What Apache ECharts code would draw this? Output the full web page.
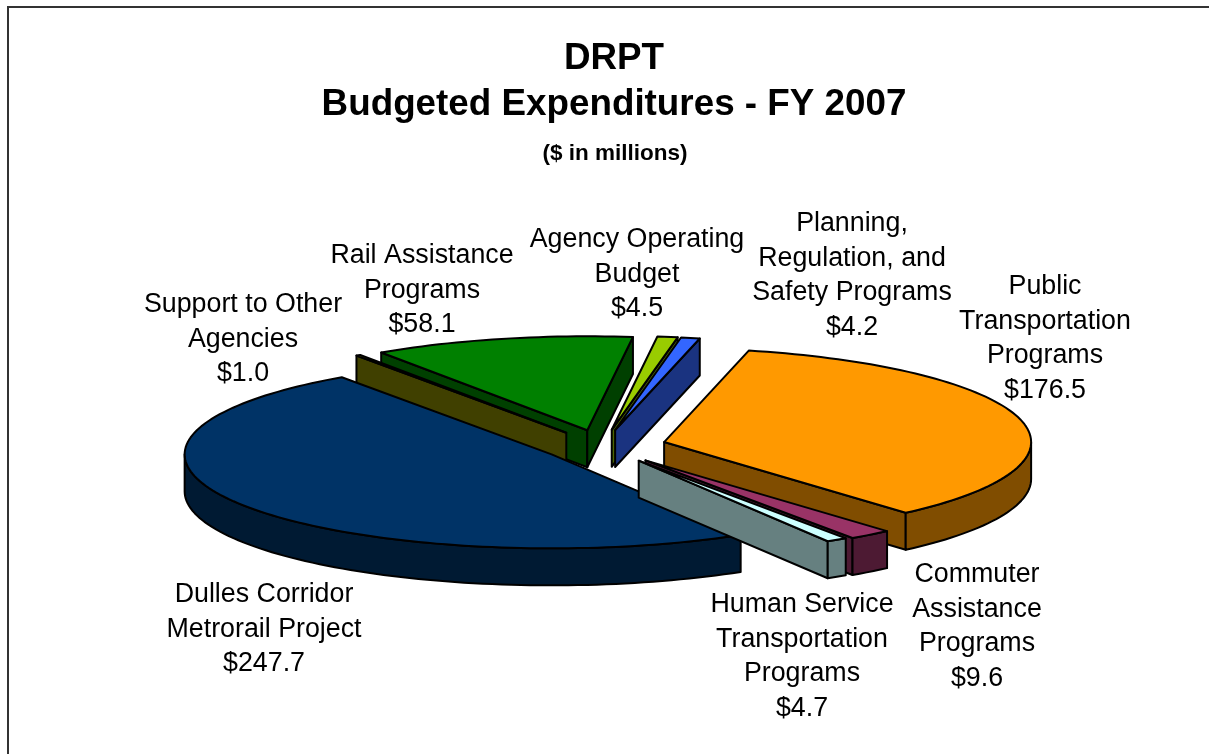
<!DOCTYPE html>
<html>
<head>
<meta charset="utf-8">
<title>DRPT Budgeted Expenditures - FY 2007</title>
<script src="https://cdn.jsdelivr.net/npm/echarts@6/dist/echarts.min.js"></script>
<style>
  html, body { margin: 0; padding: 0; background: #fff; }
  #chart { width: 1209px; height: 754px; }
</style>
</head>
<body>
<div id="chart"></div>
<script>
// Slices in clockwise order, starting from the lower edge of the Dulles slice
const CATEGORIES = [
  'Dulles Corridor\nMetrorail Project',
  'Support to Other\nAgencies',
  'Rail Assistance\nPrograms',
  'Agency Operating\nBudget',
  'Planning,\nRegulation, and\nSafety Programs',
  'Public\nTransportation\nPrograms',
  'Commuter\nAssistance\nPrograms',
  'Human Service\nTransportation\nPrograms'
];
const VALUES = [247.7, 1.0, 58.1, 4.5, 4.2, 176.5, 9.6, 4.7];
const TOP_COLORS = ['#003366', '#808000', '#008000', '#99cc00', '#3366ff', '#ff9900', '#993366', '#ccffff'];
const SIDE_COLORS = ['#001a33', '#404000', '#004000', '#4d6600', '#1a3380', '#804d00', '#4d1a33', '#668080'];

// Label anchors (center x, center y of the first line)
const LABEL_X = [264, 243, 422, 637, 852, 1045, 977, 802];
const LABEL_Y = [595, 305, 256, 240, 224, 287, 575, 605];

// How far each slice is pulled out of the pie, px along the long axis
const EXPLODE = [60, 63, 63, 64, 64, 64, 71, 68];

// 3D pie geometry
const CX = 602, CY = 446;
const RX = 367, RY = 94;
const DEPTH = 37;
const START_ANGLE = 149;
const LINE_HEIGHT = 34.5;

const total = VALUES.reduce((sum, v) => sum + v, 0);
const rad = deg => deg * Math.PI / 180;

// Angles are degrees clockwise from the top of the pie
let running = START_ANGLE;
const slices = VALUES.map((value, index) => {
  if (running >= 360) running -= 360;
  const start = running;
  const end = running + value / total * 360;
  running = end;
  const mid = rad((start + end) / 2);
  return {
    index, value, start, end,
    ax: CX + EXPLODE[index] * Math.sin(mid),
    ay: CY - EXPLODE[index] * RY / RX * Math.cos(mid)
  };
});

// Painter's order: the slices further back are drawn first
const drawOrder = [...slices].sort((a, b) => a.ay - b.ay);

const rimPoint = (s, deg, drop) => [
  s.ax + RX * Math.sin(rad(deg)),
  s.ay - RY * Math.cos(rad(deg)) + drop
];

const arcPoints = (s, from, to, drop) => {
  const steps = Math.max(2, Math.ceil((to - from) / 1.5));
  const pts = [];
  for (let i = 0; i <= steps; i++) {
    pts.push(rimPoint(s, from + (to - from) * i / steps, drop));
  }
  return pts;
};

const face = (points, fill) => ({
  type: 'polygon',
  shape: { points },
  style: { fill, stroke: '#000', lineWidth: 2, lineJoin: 'round' }
});

const renderSlice = (params, api) => {
  const s = drawOrder[api.value(0)];
  const side = SIDE_COLORS[s.index];
  const children = [];
  const apex = [s.ax, s.ay];
  const apexLow = [s.ax, s.ay + DEPTH];

  // Cut faces, only those that turn towards the viewer
  const startSin = Math.sin(rad(s.start));
  const endSin = Math.sin(rad(s.end));
  if (startSin < 0) {
    children.push(face([apex, rimPoint(s, s.start, 0), rimPoint(s, s.start, DEPTH), apexLow], side));
  }
  if (endSin > 0) {
    children.push(face([apex, rimPoint(s, s.end, 0), rimPoint(s, s.end, DEPTH), apexLow], side));
  }

  // Outer wall, front half of the rim only
  const wallFrom = Math.max(s.start, 90);
  const wallTo = Math.min(s.end, 270);
  if (wallTo > wallFrom) {
    const upper = arcPoints(s, wallFrom, wallTo, 0);
    const lower = arcPoints(s, wallFrom, wallTo, DEPTH).reverse();
    children.push(face(upper.concat(lower), side));
  }

  // Top face
  children.push(face([apex].concat(arcPoints(s, s.start, s.end, 0)), TOP_COLORS[s.index]));

  return { type: 'group', children };
};

const labels = CATEGORIES.map((name, i) => ({
  type: 'text',
  x: LABEL_X[i],
  y: LABEL_Y[i] - LINE_HEIGHT / 2,
  style: {
    text: name + '\n$' + VALUES[i].toFixed(1),
    fontFamily: 'Liberation Sans',
    fontSize: 26.8,
    lineHeight: LINE_HEIGHT,
    fill: '#000',
    align: 'center',
    verticalAlign: 'top'
  }
}));

const borderStyle = { stroke: '#333', lineWidth: 2 };

const chart = echarts.init(document.getElementById('chart'), null, { renderer: 'canvas' });
chart.setOption({
  animation: false,
  backgroundColor: '#fff',
  title: [
    {
      text: 'DRPT\nBudgeted Expenditures - FY 2007',
      left: 609,
      top: 31,
      textAlign: 'center',
      textStyle: { fontFamily: 'Liberation Sans', fontSize: 36.8, fontWeight: 'bold', lineHeight: 46, color: '#000' }
    },
    {
      text: '($ in millions)',
      left: 610,
      top: 137,
      textAlign: 'center',
      textStyle: { fontFamily: 'Liberation Sans', fontSize: 22.5, fontWeight: 'bold', color: '#000' }
    }
  ],
  graphic: labels.concat([
    { type: 'line', shape: { x1: 8, y1: 7, x2: 8, y2: 754 }, style: borderStyle },
    { type: 'line', shape: { x1: 7, y1: 7, x2: 1209, y2: 7 }, style: borderStyle }
  ]),
  series: [{
    type: 'custom',
    coordinateSystem: 'none',
    renderItem: renderSlice,
    data: drawOrder.map((s, i) => [i, s.value])
  }]
});
</script>
</body>
</html>
